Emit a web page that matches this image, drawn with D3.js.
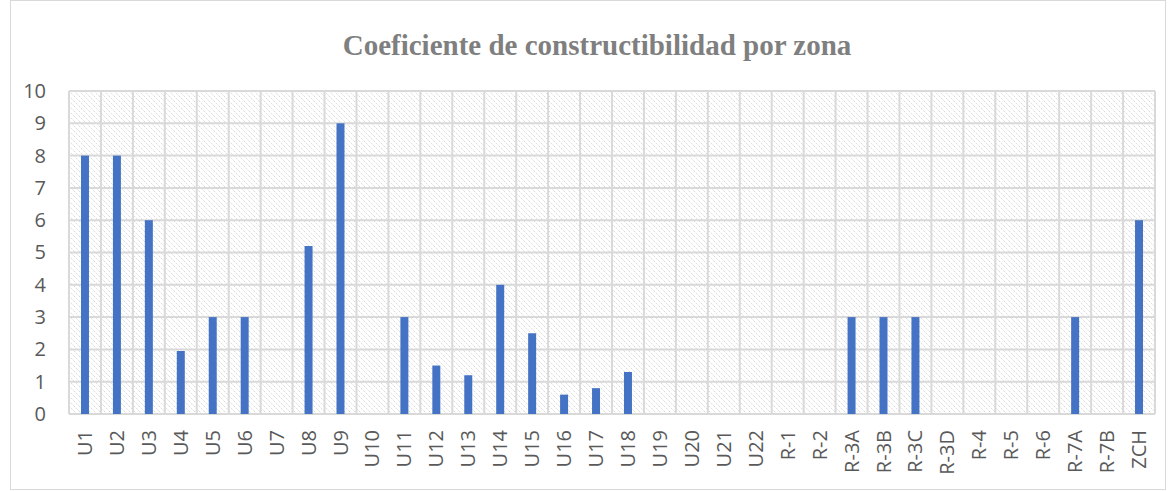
<!DOCTYPE html>
<html>
<head>
<meta charset="utf-8">
<script src="https://cdn.jsdelivr.net/npm/d3@7"></script>
<style>
  body { margin: 0; background: #fff; }
</style>
</head>
<body>
<div id="chart"></div>
<script>
// categories and values
var zones = ["U1","U2","U3","U4","U5","U6","U7","U8","U9","U10","U11","U12","U13","U14","U15","U16","U17","U18",
             "U19","U20","U21","U22","R-1","R-2","R-3A","R-3B","R-3C","R-3D","R-4","R-5","R-6","R-7A","R-7B","ZCH"];
var coef = [8,8,6,1.95,3,3,0,5.2,9,0,3,1.5,1.2,4,2.5,0.6,0.8,1.3,
            0,0,0,0,0,0,3,3,3,0,0,0,0,3,0,6];
var yTicks = [0,1,2,3,4,5,6,7,8,9,10];

var W = 1176, H = 491;
var margin = {top: 91, right: 21, bottom: 77, left: 69},
    width = W - margin.left - margin.right,
    height = H - margin.top - margin.bottom;

var labelFont = "'Open Sans', 'Noto Sans', sans-serif";

var svg = d3.select("#chart")
  .append("svg")
    .attr("width", W)
    .attr("height", H);

// hatch pattern for the plot area
var pat = svg.append("defs").append("pattern")
    .attr("id", "hatch")
    .attr("patternUnits", "userSpaceOnUse")
    .attr("width", 5)
    .attr("height", 5);
pat.append("line")
    .attr("x1", 0).attr("y1", 0).attr("x2", 5).attr("y2", 5)
    .attr("stroke", "#d9d9d9").attr("stroke-width", 1).attr("stroke-dasharray", "1.5,1");
pat.append("line")
    .attr("x1", -1).attr("y1", 4).attr("x2", 1).attr("y2", 6)
    .attr("stroke", "#d9d9d9").attr("stroke-width", 1);
pat.append("line")
    .attr("x1", 4).attr("y1", -1).attr("x2", 6).attr("y2", 1)
    .attr("stroke", "#d9d9d9").attr("stroke-width", 1);

// chart border
svg.append("rect")
    .attr("x", 10.5).attr("y", 0.5)
    .attr("width", 1155).attr("height", 489)
    .attr("fill", "none").attr("stroke", "#d9d9d9");

// title
svg.append("text")
    .attr("x", 597).attr("y", 55)
    .attr("text-anchor", "middle")
    .style("font-family", "'Liberation Serif', 'Times New Roman', serif")
    .style("font-weight", "bold")
    .style("font-size", "29px")
    .style("fill", "#7f7f7f")
    .text("Coeficiente de constructibilidad por zona");

var g = svg.append("g")
    .attr("transform", "translate(" + margin.left + "," + margin.top + ")");

var x = d3.scaleBand()
    .domain(zones)
    .range([0, width])
    .paddingInner(0.75)
    .paddingOuter(0.375);

var xCat = d3.scaleBand().domain(zones).range([0, width]);

var y = d3.scaleLinear()
    .domain([0, 10])
    .range([height, 0]);

g.append("rect")
    .attr("width", width).attr("height", height)
    .attr("fill", "url(#hatch)");

// horizontal gridlines
g.append("g")
  .selectAll("line")
  .data(yTicks)
  .enter().append("line")
    .attr("x1", 0).attr("x2", width)
    .attr("y1", function(d) { return y(d); })
    .attr("y2", function(d) { return y(d); })
    .attr("stroke", "#d9d9d9").attr("stroke-width", 2);

// vertical gridlines at category edges
g.append("g")
  .selectAll("line")
  .data(zones.concat(["__end"]))
  .enter().append("line")
    .attr("x1", function(d, i) { return i < zones.length ? xCat(d) : width; })
    .attr("x2", function(d, i) { return i < zones.length ? xCat(d) : width; })
    .attr("y1", 0).attr("y2", height)
    .attr("stroke", "#d9d9d9").attr("stroke-width", 2);

// bars
g.append("g")
  .selectAll("rect")
  .data(zones)
  .enter().append("rect")
    .attr("x", function(d) { return x(d); })
    .attr("width", x.bandwidth())
    .attr("y", function(d, i) { return y(coef[i]); })
    .attr("height", function(d, i) { return y(0) - y(coef[i]); })
    .attr("fill", "#4472c4");

// y axis
var yAxis = g.append("g")
    .call(d3.axisLeft(y).tickValues(yTicks).tickSize(0).tickPadding(23));
yAxis.select(".domain").remove();
yAxis.selectAll("text")
    .style("font-family", labelFont)
    .style("font-size", "20px")
    .style("fill", "#595959");

// x axis
var xAxis = g.append("g")
    .attr("transform", "translate(0," + height + ")")
    .call(d3.axisBottom(xCat).tickSize(0).tickPadding(0));
xAxis.select(".domain").remove();
xAxis.selectAll("text")
    .attr("transform", "rotate(-90)")
    .attr("text-anchor", "end")
    .attr("x", -16)
    .attr("y", 0)
    .attr("dy", "0.35em")
    .style("font-family", labelFont)
    .style("font-size", "20px")
    .style("fill", "#595959");
</script>
</body>
</html>
